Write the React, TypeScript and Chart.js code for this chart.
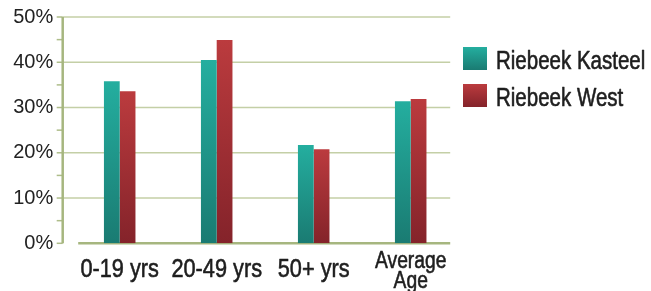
import React, { useEffect, useRef } from "react";
import { Chart, registerables } from "chart.js";

Chart.register(...registerables);

const categories = ["0-19 yrs", "20-49 yrs", "50+ yrs", "Average Age"];
const categoryLines = [["0-19 yrs"], ["20-49 yrs"], ["50+ yrs"], ["Average", "Age"]];
const seriesNames = ["Riebeek Kasteel", "Riebeek West"];
const kasteelValues = [35.8, 40.5, 21.7, 31.4];
const westValues = [33.6, 44.9, 20.8, 31.9];
const yTickValues = [0, 10, 20, 30, 40, 50];
const yMinorStep = 5;

const TEAL = ["#24ae9f", "#1a7b72"];
const RED = ["#bb3b3e", "#84232a"];
const SANS = "'Liberation Sans', Arial, Helvetica, sans-serif";
const CONDENSE = 0.82;

const barGradient = (colors: string[]) => (ctx: any) => {
  const chart = ctx.chart;
  if (!chart.chartArea || ctx.type !== "data") return colors[0];
  const ys = chart.scales.y;
  const top = ys.getPixelForValue(ctx.raw);
  const bottom = ys.getPixelForValue(0);
  if (!isFinite(top) || !isFinite(bottom) || top === bottom) return colors[0];
  const g = chart.ctx.createLinearGradient(0, top, 0, bottom);
  g.addColorStop(0, colors[0]);
  g.addColorStop(1, colors[1]);
  return g;
};

function narrowText(ctx: CanvasRenderingContext2D, text: string, x: number, y: number, size: number) {
  ctx.save();
  ctx.font = `${size}px ${SANS}`;
  ctx.translate(x, y);
  ctx.scale(CONDENSE, 1);
  ctx.fillText(text, 0, 0);
  ctx.strokeStyle = ctx.fillStyle as string;
  ctx.lineWidth = 0.6;
  ctx.lineJoin = "round";
  ctx.strokeText(text, 0, 0);
  ctx.restore();
}

const decorPlugin = {
  id: "decor",
  beforeDatasetsDraw(chart: any) {
    const { ctx, chartArea } = chart;
    const ys = chart.scales.y;
    const axisX = chartArea.left - 8.5;
    const gridRight = chartArea.right - 9;
    const y0 = ys.getPixelForValue(0);
    const yTop = ys.getPixelForValue(yTickValues[yTickValues.length - 1]);
    ctx.save();
    ctx.strokeStyle = "#c4cfa6";
    ctx.lineWidth = 1.5;
    yTickValues.forEach((v) => {
      if (v === 0) return;
      const y = ys.getPixelForValue(v);
      ctx.beginPath();
      ctx.moveTo(axisX, y);
      ctx.lineTo(gridRight, y);
      ctx.stroke();
    });
    ctx.strokeStyle = "#aebd8a";
    ctx.lineWidth = 1.5;
    for (let v = 0; v <= yTickValues[yTickValues.length - 1]; v += yMinorStep) {
      const y = ys.getPixelForValue(v);
      ctx.beginPath();
      ctx.moveTo(axisX - 6, y);
      ctx.lineTo(axisX, y);
      ctx.stroke();
    }
    ctx.strokeStyle = "#a6b67f";
    ctx.lineWidth = 2.5;
    ctx.beginPath();
    ctx.moveTo(axisX, yTop);
    ctx.lineTo(axisX, y0);
    ctx.stroke();
    ctx.beginPath();
    ctx.moveTo(chartArea.left + 7, y0);
    ctx.lineTo(gridRight, y0);
    ctx.stroke();
    ctx.restore();
  },
  afterDraw(chart: any) {
    const { ctx } = chart;
    const xs = chart.scales.x;
    ctx.save();
    ctx.fillStyle = "#1e1e1e";
    ctx.textAlign = "center";
    ctx.textBaseline = "alphabetic";
    categoryLines.forEach((lines, i) => {
      const x = xs.getPixelForValue(i);
      if (lines.length === 1) {
        narrowText(ctx, lines[0], x, 277, 26.5);
      } else {
        lines.forEach((t, j) => narrowText(ctx, t, x, 267.5 + j * 20.5, 23.5));
      }
    });
    const items = [
      { name: seriesNames[0], colors: TEAL, top: 47 },
      { name: seriesNames[1], colors: RED, top: 84 },
    ];
    items.forEach((it) => {
      const g = ctx.createLinearGradient(0, it.top, 0, it.top + 23);
      g.addColorStop(0, it.colors[0]);
      g.addColorStop(1, it.colors[1]);
      ctx.fillStyle = g;
      ctx.fillRect(463, it.top, 24, 23);
      ctx.fillStyle = "#1e1e1e";
      ctx.textAlign = "left";
      narrowText(ctx, it.name, 496, it.top + 21.5, 25);
    });
    ctx.restore();
  },
};

export default function App() {
  const ref = useRef<HTMLCanvasElement | null>(null);
  useEffect(() => {
    if (!ref.current) return;
    const chart = new Chart(ref.current, {
      type: "bar",
      data: {
        labels: categories,
        datasets: [
          {
            label: seriesNames[0],
            data: kasteelValues,
            backgroundColor: barGradient(TEAL),
            borderWidth: 0,
            categoryPercentage: 0.325,
            barPercentage: 1,
          },
          {
            label: seriesNames[1],
            data: westValues,
            backgroundColor: barGradient(RED),
            borderWidth: 0,
            categoryPercentage: 0.325,
            barPercentage: 1,
          },
        ],
      },
      options: {
        responsive: false,
        animation: false,
        devicePixelRatio: 1,
        layout: { padding: { top: 17, right: 191.8, left: 0, bottom: 0 } },
        plugins: { legend: { display: false }, tooltip: { enabled: false } },
        scales: {
          x: {
            grid: { display: false, drawTicks: false },
            border: { display: false },
            ticks: { display: false },
            afterFit: (s: any) => {
              s.height = 47.7;
              s.paddingLeft = 0;
              s.paddingRight = 0;
            },
          },
          y: {
            min: 0,
            max: 50,
            grid: { display: false, drawTicks: false },
            border: { display: false },
            afterBuildTicks: (s: any) => {
              s.ticks = yTickValues.map((v) => ({ value: v }));
            },
            ticks: {
              color: "#222",
              font: { family: SANS, size: 20 },
              padding: 18,
              callback: (v: any) => `${v}%`,
            },
            afterFit: (s: any) => {
              s.width = 71.2;
              s.paddingTop = 0;
              s.paddingBottom = 0;
            },
          },
        },
      },
      plugins: [decorPlugin],
    });
    return () => chart.destroy();
  }, []);
  return (
    <div style={{ position: "absolute", left: 0, top: 0, width: 651, height: 291, background: "#fff" }}>
      <canvas ref={ref} width={651} height={291} style={{ display: "block" }} />
    </div>
  );
}
